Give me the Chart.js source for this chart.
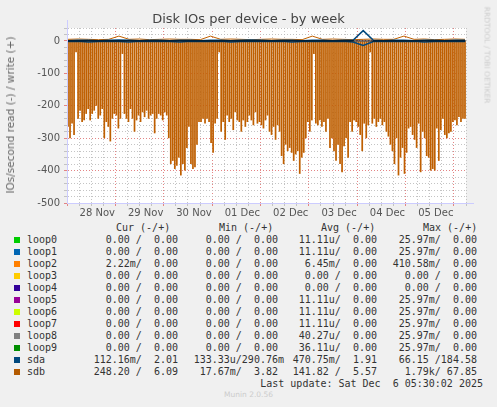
<!DOCTYPE html>
<html><head><meta charset="utf-8">
<script src="https://cdn.jsdelivr.net/npm/chart.js@4"></script>
<style>
body{margin:0;background:#f0f0f0;width:497px;height:407px;position:relative;overflow:hidden;font-family:"DejaVu Sans",sans-serif}
#wrap{position:absolute;left:0;top:0;width:497px;height:220px}
.t{position:absolute;white-space:pre;font-family:"DejaVu Sans Mono",monospace;font-size:10px;color:#333;line-height:12px}
.sw{position:absolute;width:6px;height:6px}
</style></head><body>
<div id="wrap"><canvas id="c"></canvas></div>
<div style="position:absolute;left:0;width:497px;top:11px;text-align:center;font-size:13px;color:#444">Disk IOs per device - by week</div>
<div style="position:absolute;left:10px;top:115px;transform:translate(-50%,-50%) rotate(-90deg);font-size:10.5px;color:#666;white-space:nowrap">IOs/second read (-) / write (+)</div>
<div style="position:absolute;left:487px;top:55px;transform:translate(-50%,-50%) rotate(90deg);font-size:7.5px;color:#ccc;white-space:nowrap">RRDTOOL / TOBI OETIKER</div>
<div id="leg"></div>
<script>
const categories=["loop0","loop1","loop2","loop3","loop4","loop5","loop6","loop7","loop8","loop9","sda","sdb"];
const swatch=["#00cc00","#0066b3","#ff8000","#ffcc00","#330099","#990099","#ccff00","#ff0000","#808080","#008f00","#00487d","#b35a00"];
const curCol=["  0.00 /  0.00 ","  0.00 /  0.00 ","  2.22m/  0.00 ","  0.00 /  0.00 ","  0.00 /  0.00 ","  0.00 /  0.00 ","  0.00 /  0.00 ","  0.00 /  0.00 ","  0.00 /  0.00 ","  0.00 /  0.00 ","112.16m/  2.01 ","248.20 /  6.09 "];
const minCol=["  0.00 /  0.00 ","  0.00 /  0.00 ","  0.00 /  0.00 ","  0.00 /  0.00 ","  0.00 /  0.00 ","  0.00 /  0.00 ","  0.00 /  0.00 ","  0.00 /  0.00 ","  0.00 /  0.00 ","  0.00 /  0.00 ","133.33u/290.76m"," 17.67m/  3.82 "];
const avgCol=[" 11.11u/  0.00 "," 11.11u/  0.00 ","  6.45m/  0.00 ","  0.00 /  0.00 ","  0.00 /  0.00 "," 11.11u/  0.00 "," 11.11u/  0.00 "," 11.11u/  0.00 "," 40.27u/  0.00 "," 36.11u/  0.00 ","470.75m/  1.91 ","141.82 /  5.57 "];
const maxCol=[" 25.97m/  0.00 "," 25.97m/  0.00 ","410.58m/  0.00 ","  0.00 /  0.00 ","  0.00 /  0.00 "," 25.97m/  0.00 "," 25.97m/  0.00 "," 25.97m/  0.00 "," 25.97m/  0.00 "," 25.97m/  0.00 "," 66.15 /184.58 ","  1.79k/ 67.85 "];
// hourly sdb read spikes (IOs/s, shown negative)
const sdbRead=[265,300,255,290,35,240,215,250,245,225,210,245,225,215,200,240,230,210,300,250,265,310,240,225,230,270,240,
40,225,240,250,210,240,280,245,230,250,220,235,215,240,230,225,285,240,225,230,245,220,230,
300,380,370,395,385,360,415,380,400,330,265,380,395,390,320,250,
250,240,255,240,250,315,345,255,240,
35,280,250,305,230,250,240,275,220,245,250,280,245,265,250,230,245,260,220,255,250,260,270,245,230,
280,290,265,305,260,280,355,380,320,340,330,
345,370,350,340,410,360,345,300,250,280,245,
40,255,260,245,265,250,280,240,
330,300,340,370,320,380,405,325,300,360,250,280,245,250,265,290,340,255,300,260,
35,255,240,265,250,240,260,250,280,
295,320,340,380,300,415,360,330,410,345,270,265,290,305,330,255,405,280,300,355,360,400,395,400,270,
370,275,240,290,300,285,280,250,245,260,235,250,240,240];
const sdbWrite=[5,6,5,4,5,15,5,6,4,5,6,5,5,4,15,5,6,5,4,5,6,5,5,4,15,5,6,5,4,5,6,5,5,15,5,6,4,5,6,5];
const sdaRead=[2,1,3,2,1,2,3,1,2,1,2,3,1,2,2,1,3,2,1,2,2,1,3,2,1,2,2,1,3,14,2,1,2,2,1,3,2,1,2,2];
const sdaWrite=[1,2,2,1,2,3,2,1,2,2,1,2,2,1,2,2,1,2,3,2,1,2,2,1,2,2,1,2,2,32,2,1,2,2,1,2,2,1,2,2];
const leg=document.getElementById('leg');
function add(x,y,s,al){const d=document.createElement('div');d.className='t';d.textContent=s;d.style.top=(y-6)+'px';if(al==='r'){d.style.right=(497-x)+'px'}else d.style.left=x+'px';leg.appendChild(d);}
add(116,228,"Cur (-/+)");add(219,228,"Min (-/+)");add(321,228,"Avg (-/+)");add(423,228,"Max (-/+)");
categories.forEach((n,i)=>{const y=240+i*12;const s=document.createElement('div');s.className='sw';s.style.left='14px';s.style.top=(y-3)+'px';s.style.background=swatch[i];leg.appendChild(s);
add(27,y,n);add(184,y,curCol[i],'r');add(284,y,minCol[i],'r');add(383,y,avgCol[i],'r');add(483,y,maxCol[i],'r');});
add(483,384,"Last update: Sat Dec  6 05:30:02 2025",'r');
const m=document.createElement('div');m.style.cssText='position:absolute;left:0;width:497px;top:390px;text-align:center;font-size:7.5px;color:#ccc';m.textContent='Munin 2.0.56';leg.appendChild(m);
const days=["28 Nov","29 Nov","30 Nov","01 Dec","02 Dec","03 Dec","04 Dec","05 Dec"];
const N=sdbRead.length;
const spread=a=>a.map((v,i)=>({x:i*(N-1)/(a.length-1),y:v}));
const tv=c=>(c&&c.tick)?c.tick.value:NaN;
new Chart(document.getElementById('c'),{
 data:{datasets:[
  {type:'bar',data:sdbRead.map((v,i)=>({x:i,y:-v})),backgroundColor:'#bf5f00',barPercentage:0.85,categoryPercentage:1,grouped:false,order:3},
  {type:'line',data:spread(sdbWrite),borderColor:'#c06000',borderWidth:1,pointRadius:0,order:2},
  {type:'line',data:spread(sdaRead).map(p=>({x:p.x,y:-p.y})),borderColor:'#00487d',borderWidth:1.5,pointRadius:0,order:1},
  {type:'line',data:spread(sdaWrite),borderColor:'#00487d',borderWidth:1.5,pointRadius:0,order:1}
 ]},
 options:{animation:false,responsive:true,maintainAspectRatio:false,
  layout:{padding:{top:28,right:31,left:0,bottom:0}},
  plugins:{legend:{display:false},tooltip:{enabled:false}},
  scales:{
   x:{type:'linear',min:-0.5,max:N-0.5,offset:false,
     afterFit:s=>{s.height=17},
     afterBuildTicks:s=>{const t=[];for(let v=2.5;v<N;v+=6)t.push({value:v});s.ticks=t;},
     ticks:{autoSkip:false,maxRotation:0,color:'#555',font:{size:10,family:'DejaVu Sans'},padding:1,
       callback:v=>{const h=v-2.5;return (h%24===12)?(days[Math.floor(h/24)]||''):'';}},
     grid:{color:c=>((tv(c)-2.5)%24===0)?'rgba(225,120,120,0.9)':'rgba(190,190,190,0.9)',tickLength:3,drawTicks:true},
     border:{display:true,color:'rgba(0,0,0,0)',dash:[1,2]}},
   y:{min:-500,max:40,
     afterFit:s=>{s.width=67},
     afterBuildTicks:s=>{const t=[];for(let v=-500;v<=40;v+=20)t.push({value:v});s.ticks=t;},
     ticks:{autoSkip:false,color:'#555',font:{size:10,family:'DejaVu Sans'},padding:4,callback:v=>v%100===0?String(v):''},
     grid:{color:c=>(tv(c)%100===0)?'rgba(225,120,120,0.9)':'rgba(190,190,190,0.9)',tickLength:3},
     border:{display:true,color:'rgba(0,0,0,0)',dash:[1,2]}}
  }},
 plugins:[{id:'bg',beforeDraw(ch){const a=ch.chartArea,x=ch.ctx;x.save();x.fillStyle='#fff';x.fillRect(a.left,a.top,a.right-a.left,a.bottom-a.top);x.restore();},
  afterDatasetsDraw(ch){const a=ch.chartArea,x=ch.ctx,y0=ch.scales.y.getPixelForValue(0);x.save();x.strokeStyle='#000';x.lineWidth=1;x.beginPath();x.moveTo(a.left,y0);x.lineTo(a.right,y0);x.stroke();
   x.strokeStyle='#ccccff';x.beginPath();x.moveTo(a.left+0.5,a.top-8);x.lineTo(a.left+0.5,a.bottom+0.5);x.lineTo(a.right+8,a.bottom+0.5);x.stroke();x.restore();}}]
});
</script></body></html>
